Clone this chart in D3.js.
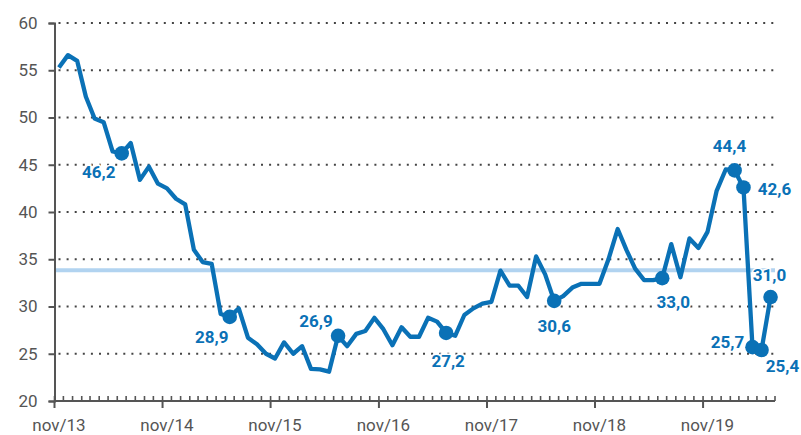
<!DOCTYPE html>
<html>
<head>
<meta charset="utf-8">
<script src="https://cdn.jsdelivr.net/npm/d3@7"></script>
<style>
  body { margin: 0; background: #fff; }
  text { font-family: Roboto, "DejaVu Sans", sans-serif; }
</style>
</head>
<body>
<div id="chart-area"></div>
<script>
// monthly series, nov/13 .. jun/20
const startMonth = new Date(2013, 10, 1)
const values = [
  55.3, 56.6, 56.0, 52.2, 49.9, 49.5, 46.4, 46.2, 47.3, 43.4,
  44.8, 43.0, 42.5, 41.4, 40.8, 36.0, 34.7, 34.5, 29.2, 28.9,
  29.8, 26.7, 26.0, 25.0, 24.5, 26.2, 25.0, 25.8, 23.4, 23.35,
  23.1, 26.9, 25.8, 27.1, 27.4, 28.8, 27.6, 25.9, 27.8, 26.8,
  26.8, 28.8, 28.4, 27.2, 26.9, 29.1, 29.8, 30.3, 30.5, 33.8,
  32.2, 32.2, 31.0, 35.3, 33.4, 30.6, 31.1, 32.0, 32.4, 32.4,
  32.4, 35.0, 38.2, 36.0, 34.0, 32.8, 32.8, 33.0, 36.6, 33.1,
  37.2, 36.2, 37.9, 42.2, 44.5, 44.4, 42.6, 25.7, 25.4, 31.0
]
const average = 33.84
const yTicks = [20, 25, 30, 35, 40, 45, 50, 55, 60]
const xTickLabels = ['nov/13', 'nov/14', 'nov/15', 'nov/16', 'nov/17', 'nov/18', 'nov/19']
// highlighted months (index into values)
const markedIdx = [7, 19, 31, 43, 55, 67, 75, 76, 77, 78, 79]
// label placement relative to the marker [dx, dy]
const labelOffset = [[-23, 25], [-18, 26], [-22, -9], [2, 34], [0, 31], [11, 30],
                     [-5, -18], [31, 8], [-25, 1], [21, 22], [-1, -16]]

const BLUE = '#0a71b6'
const GREY = '#555'
const MARGIN = {LEFT: 54.5, TOP: 23, RIGHT: 26, BOTTOM: 34}
const W = 801, H = 435

const months = values.map((v, i) => d3.timeMonth.offset(startMonth, i))
const endMonth = d3.timeMonth.offset(startMonth, values.length)
const data = values.map((v, i) => ({date: months[i], value: v}))

const svg = d3.select('#chart-area').append('svg')
  .attr('width', W).attr('height', H)

const x = d3.scaleTime()
  .domain([startMonth, endMonth])
  .range([MARGIN.LEFT, W - MARGIN.RIGHT])
const y = d3.scaleLinear()
  .domain([20, 60])
  .range([H - MARGIN.BOTTOM, MARGIN.TOP])

const mid = d => x(d) + (x(d3.timeMonth.offset(d, 1)) - x(d)) / 2

// dotted grid
svg.append('g').selectAll('line')
  .data(yTicks.slice(1))
  .enter().append('line')
  .attr('x1', MARGIN.LEFT + 4).attr('x2', W - MARGIN.RIGHT)
  .attr('y1', d => y(d)).attr('y2', d => y(d))
  .attr('stroke', '#444')
  .attr('stroke-width', 2)
  .attr('stroke-dasharray', '2,6.1')

// average line
svg.append('line')
  .attr('x1', MARGIN.LEFT).attr('x2', W - MARGIN.RIGHT)
  .attr('y1', y(average)).attr('y2', y(average))
  .attr('stroke', '#b1d3f0')
  .attr('stroke-width', 4)

// y axis
const yAxis = svg.append('g')
  .attr('transform', `translate(${MARGIN.LEFT},0)`)
  .call(d3.axisLeft(y).tickValues(yTicks).tickSize(6).tickPadding(11))
yAxis.select('.domain').attr('stroke', GREY).attr('stroke-width', 2)
yAxis.selectAll('.tick line').attr('stroke', GREY).attr('stroke-width', 2)
yAxis.selectAll('.tick text')
  .attr('fill', GREY).attr('font-size', '17px')

// x axis: minor month ticks upward, major ticks at november
const xAxis = svg.append('g')
  .attr('transform', `translate(0,${y(20)})`)
xAxis.append('line')
  .attr('x1', MARGIN.LEFT).attr('x2', W - MARGIN.RIGHT)
  .attr('stroke', GREY).attr('stroke-width', 2)
xAxis.selectAll('.minor')
  .data(months.concat([endMonth]))
  .enter().append('line')
  .attr('class', 'minor')
  .attr('x1', d => x(d)).attr('x2', d => x(d))
  .attr('y1', 0).attr('y2', -5)
  .attr('stroke', GREY).attr('stroke-width', 1.6)
const novs = months.filter(d => d.getMonth() === 10)
xAxis.selectAll('.major')
  .data(novs)
  .enter().append('line')
  .attr('class', 'major')
  .attr('x1', d => x(d)).attr('x2', d => x(d))
  .attr('y1', 0).attr('y2', 7)
  .attr('stroke', GREY).attr('stroke-width', 2)
xAxis.selectAll('.xlabel')
  .data(novs)
  .enter().append('text')
  .attr('class', 'xlabel')
  .attr('x', d => mid(d))
  .attr('y', 30)
  .attr('text-anchor', 'middle')
  .attr('fill', GREY)
  .attr('font-size', '17px')
  .text((d, i) => xTickLabels[i])

// series line
const line = d3.line()
  .x(d => mid(d.date))
  .y(d => y(d.value))
svg.append('path')
  .datum(data)
  .attr('d', line)
  .attr('fill', 'none')
  .attr('stroke', BLUE)
  .attr('stroke-width', 4.3)
  .attr('stroke-linejoin', 'round')

// markers and labels
const marked = markedIdx.map((idx, k) => ({d: data[idx], off: labelOffset[k]}))
svg.selectAll('.marker')
  .data(marked)
  .enter().append('circle')
  .attr('class', 'marker')
  .attr('cx', m => mid(m.d.date))
  .attr('cy', m => y(m.d.value))
  .attr('r', 7.3)
  .attr('fill', BLUE)

svg.selectAll('.vlabel')
  .data(marked)
  .enter().append('text')
  .attr('class', 'vlabel')
  .attr('x', m => mid(m.d.date) + m.off[0])
  .attr('y', m => y(m.d.value) + m.off[1])
  .attr('text-anchor', 'middle')
  .attr('font-size', '17px')
  .attr('font-weight', 'bold')
  .attr('fill', BLUE)
  .attr('stroke', '#fff')
  .attr('stroke-width', 3)
  .attr('paint-order', 'stroke')
  .text(m => d3.format('.1f')(m.d.value).replace('.', ','))
</script>
</body>
</html>
